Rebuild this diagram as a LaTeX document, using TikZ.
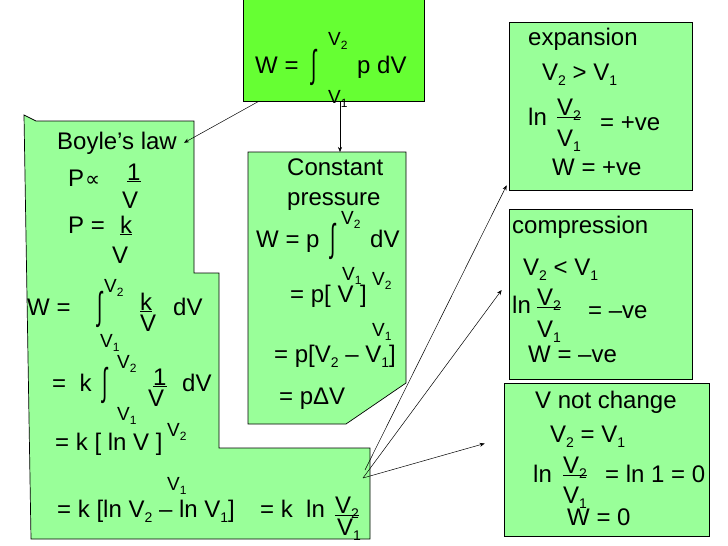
\documentclass[tikz,border=0pt]{standalone}
\usepackage{graphicx}
\usepackage{fontspec}
\setmainfont{Liberation Sans}
\newfontfamily\symfont{DejaVu Sans}
\usetikzlibrary{arrows.meta,positioning}
\definecolor{work}{HTML}{66FF33}
\definecolor{panel}{HTML}{99FF99}
\newcommand{\sub}[1]{\raisebox{-5pt}{\fontsize{14}{14}\selectfont #1}}
\newcommand{\Vs}[1]{V\sub{#1}}
\newcommand{\Vlim}[1]{{\fontsize{19}{19}\selectfont V\raisebox{-4pt}{\fontsize{12}{12}\selectfont #1}}}
\newcommand{\integ}{\raisebox{-4pt}{\scalebox{0.8}[1.6]{∫}}}
\begin{document}
\begin{tikzpicture}[x=1pt, y=-1pt,
  sheet/.style={draw=black, line width=0.7pt, fill=#1},
  txt/.style={anchor=base west, inner sep=0pt, font=\fontsize{24}{28}\selectfont},
  lim/.style={anchor=base west, inner sep=0pt},
  frac/.style={line width=0.8pt},
  arrow/.style={-{Stealth[length=5pt, width=4pt]}, line width=0.5pt},
]
\useasboundingbox (0,0) rectangle (728,546);
% panels
\node[sheet=work, minimum width=181pt, minimum height=103pt, inner sep=0pt] (work) at (333.5,49.5) {};
\draw[sheet=panel] (24,115) -- (36,121) -- (194,121) -- (194,273) -- (219,273) -- (219,448)
  -- (370,448) -- (370,539) -- (31,539) -- cycle;
\draw[sheet=panel] (248,152) -- (406,152) -- (406,383) -- (346,424) -- (248,424) -- cycle;
\node[sheet=panel, minimum width=183pt, minimum height=168pt, inner sep=0pt] (expand) at (600.5,106) {};
\node[sheet=panel, minimum width=183pt, minimum height=170pt, inner sep=0pt] (compress) at (600.5,294) {};
\node[sheet=panel, minimum width=205pt, minimum height=153pt, inner sep=0pt] (same) at (606.5,459.5) {};

% work integral
\node[txt] (wW) at (255,73) {W =};
\node[txt] (wInt) at (311,73) {\integ};
\node[lim] (wHi) at (328,45) {\Vlim{2}};
\node[txt] (wP) at (357,73) {p dV};
\node[lim] (wLo) at (328,103) {\Vlim{1}};

% Boyle's law
\node[txt] (boyle) at (57,149) {Boyle’s law};
\node[txt] (bP) at (68,186) {P};
\node[txt] (bProp) at (85,186) {\symfont\fontsize{21}{21}\selectfont ∝};
\node[txt] (bOne) at (127,180) {\underline{1}};
\node[txt] (bOneV) at (122,208) {V};
\node[txt] (bPk) at (68,233) {P =};
\node[txt] (bK) at (120,233) {\underline{k}};
\node[txt] (bKV) at (112,263) {V};
\node[txt] (bW) at (27,315) {W =};
\node[txt] (bInt) at (97,315) {\integ};
\node[lim] (bHi) at (104,292) {\Vlim{2}};
\node[txt] (bK2) at (140,310) {\underline{k}};
\node[txt] (bK2V) at (140,331) {V};
\node[txt] (bdV) at (173,315) {dV};
\node[lim] (bLo) at (100,347) {\Vlim{1}};
\node[txt] (bKint) at (52,391) {=\ \ k};
\node[txt] (bInt2) at (102,391) {\integ};
\node[lim] (bHi2) at (117,368) {\Vlim{2}};
\node[txt] (bOne2) at (153,385) {\underline{1}};
\node[txt] (bOne2V) at (148,406) {V};
\node[txt] (bdV2) at (182,391) {dV};
\node[lim] (bLo2) at (117,420) {\Vlim{1}};
\node[txt] (bLn) at (55,450) {= k [ ln V ]};
\node[lim] (bHi3) at (167,436) {\Vlim{2}};
\node[lim] (bLo3) at (167,490) {\Vlim{1}};
\node[txt] (bDiff) at (57,517) {= k [ln \Vs{2} – ln \Vs{1}]};
\node[txt] (bKln) at (260,517) {= k\ \ ln};
\node[txt] (bNum) at (335,513) {\Vs{2}};
\node[txt] (bDen) at (337,535) {\Vs{1}};
\draw[frac] ([yshift=-2pt]bNum.base west) -- ([yshift=-2pt]bNum.base east);

% constant pressure
\node[txt] (cConst) at (287,175) {Constant};
\node[txt] (cPress) at (287,205) {pressure};
\node[lim] (cHi) at (341,224) {\Vlim{2}};
\node[txt] (cW) at (256,247) {W = p};
\node[txt] (cInt) at (330,247) {\integ};
\node[txt] (cdV) at (370,247) {dV};
\node[lim] (cLo) at (342,280) {\Vlim{1}};
\node[lim] (cHi2) at (372,285) {\Vlim{2}};
\node[txt] (cBr) at (290,302) {= p[ V ]};
\node[lim] (cLo2) at (372,336) {\Vlim{1}};
\node[txt] (cDiff) at (274,362) {= p[\Vs{2} – \Vs{1}]};
\node[txt] (cDelta) at (279,404) {= pΔV};

% expansion
\node[txt] (eHead) at (528,45) {expansion};
\node[txt] (eCmp) at (542,80) {\Vs{2} > \Vs{1}};
\node[txt] (eLn) at (528,125) {ln};
\node[txt] (eNum) at (557,115) {\Vs{2}};
\node[txt] (eDen) at (557,146) {\Vs{1}};
\draw[frac] ([yshift=-2pt]eNum.base west) -- ([yshift=-2pt]eNum.base east);
\node[txt] (eSign) at (600,130) {= +ve};
\node[txt] (eW) at (552,175) {W = +ve};

% compression
\node[txt] (pHead) at (512,233) {compression};
\node[txt] (pCmp) at (523,275) {\Vs{2} < \Vs{1}};
\node[txt] (pLn) at (512,313) {ln};
\node[txt] (pNum) at (537,305) {\Vs{2}};
\node[txt] (pDen) at (537,337) {\Vs{1}};
\draw[frac] ([yshift=-2pt]pNum.base west) -- ([yshift=-2pt]pNum.base east);
\node[txt] (pSign) at (588,318) {= –ve};
\node[txt] (pW) at (528,362) {W = –ve};

% no change
\node[txt] (sHead) at (535,408) {V not change};
\node[txt] (sCmp) at (550,442) {\Vs{2} = \Vs{1}};
\node[txt] (sLn) at (533,482) {ln};
\node[txt] (sNum) at (563,473) {\Vs{2}};
\node[txt] (sDen) at (563,503) {\Vs{1}};
\draw[frac] ([yshift=-2pt]sNum.base west) -- ([yshift=-2pt]sNum.base east);
\node[txt] (sSign) at (605,482) {= ln 1 = 0};
\node[txt] (sW) at (567,525) {W = 0};

% connectors
\coordinate (cTop) at (340,152);
\coordinate (fanA) at (365,470);
\coordinate (fanB) at (363,478);
\draw[arrow] ([xshift=16pt]work.south west) -- ([xshift=7pt]boyle.east);
\draw[arrow] (work.south -| cTop) -- (cTop);
\draw[arrow] (fanA) -- ([xshift=-2pt,yshift=5pt]expand.south west);
\draw[arrow] (fanB) -- ([xshift=-7pt,yshift=4pt]compress.west);
\draw[arrow] (fanB) -- ([xshift=-19pt,yshift=16pt]same.west);
\end{tikzpicture}
\end{document}
